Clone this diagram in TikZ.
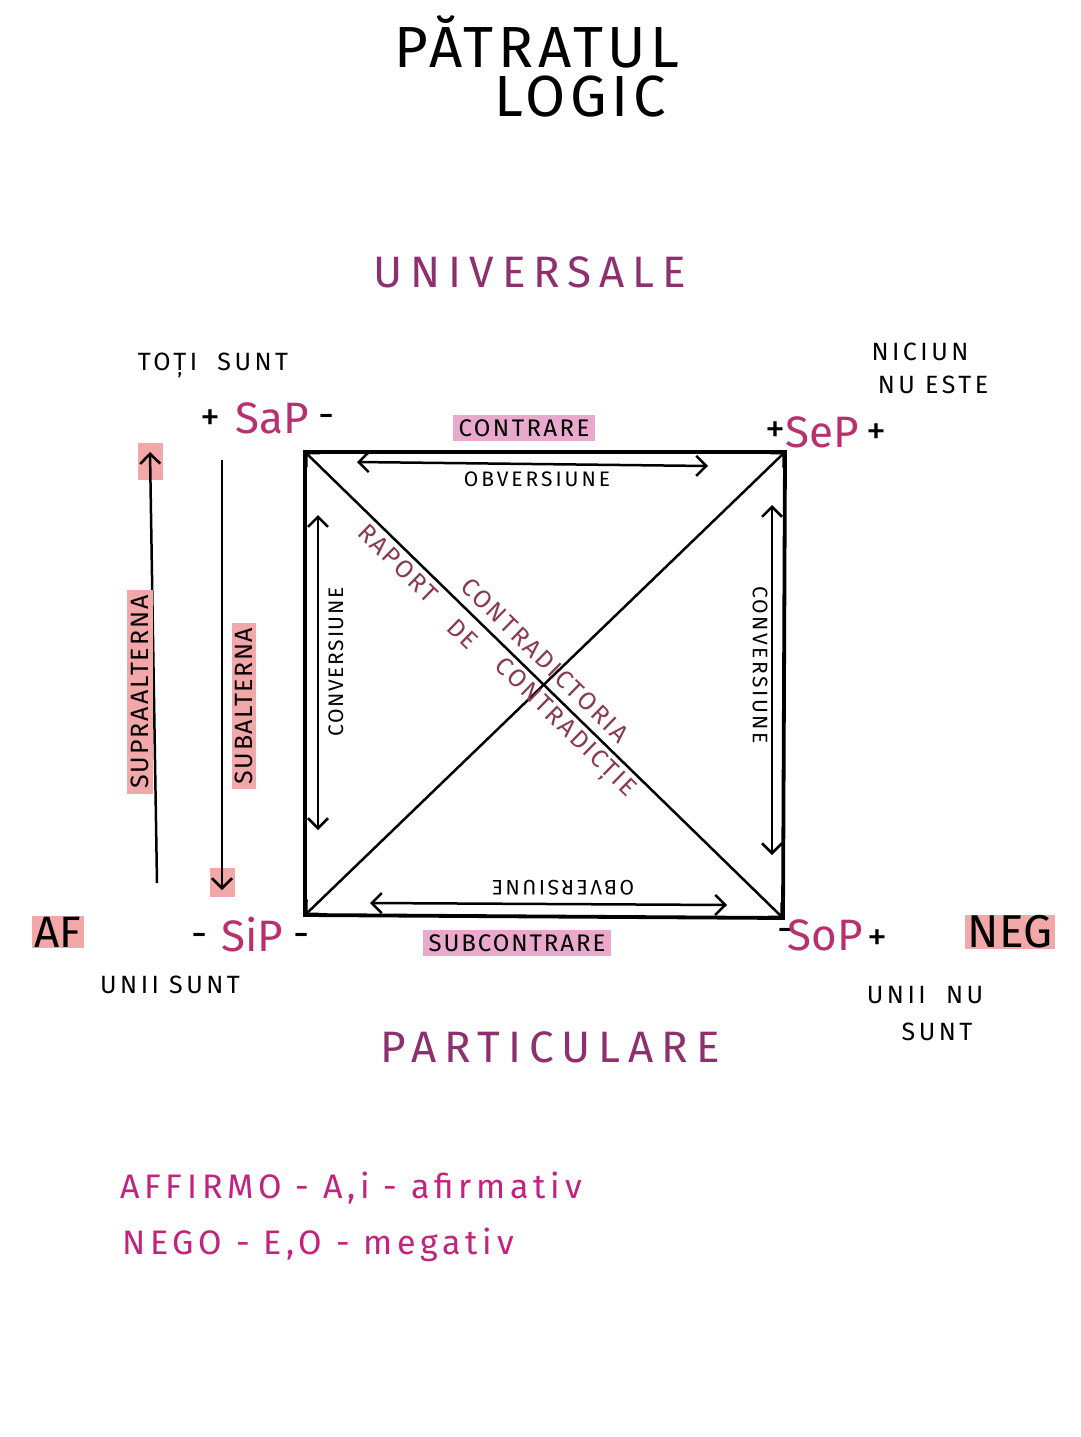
\documentclass[tikz,border=0pt]{standalone}
\usepackage{fontspec}
\setmainfont{Fira Sans}
\usetikzlibrary{arrows.meta}
\definecolor{inkpurple}{HTML}{8E2F6E}
\definecolor{inkmag}{HTML}{B8306E}
\definecolor{inkbright}{HTML}{C2237F}
\definecolor{inkmaroon}{HTML}{8A3A55}
\definecolor{hlpink}{HTML}{F2A7A9}
\definecolor{hllilac}{HTML}{E9A9CC}
\newcommand{\fsz}[1]{\fontsize{#1}{#1}\selectfont}
\begin{document}
\begin{tikzpicture}[x=1pt,y=-1pt,
  >={Straight Barb[length=10pt,width=20pt]},
  txt/.style={inner sep=1pt,text=black},
  small/.style={txt,font=\fsz{25}\addfontfeature{LetterSpace=14}},
  sym/.style={txt,font=\fsz{40}},
  prop/.style={inner sep=1pt,text=inkmag,font=\fsz{44}},
  head/.style={inner sep=1pt,text=inkpurple,font=\fsz{44}\addfontfeature{LetterSpace=18}},
  rel/.style={txt,font=\fsz{21}\addfontfeature{LetterSpace=8}},
  diag/.style={inner sep=1pt,text=inkmaroon,font=\fsz{25}\addfontfeature{LetterSpace=9},rotate=-44.3},
  hl/.style={fill=#1,inner xsep=6pt,inner ysep=4pt},
  edge/.style={line width=3.8pt},
  conn/.style={line width=2.5pt}]
\useasboundingbox[fill=white] (0,0) rectangle (1080,1437);

% title
\node[txt,font=\fsz{58}\addfontfeature{LetterSpace=8}] (t1) at (537,42) {PĂTRATUL};
\node[txt,font=\fsz{58}\addfontfeature{LetterSpace=8}] (t2) at (580,97) {LOGIC};

\node[head] (univ) at (530,272) {UNIVERSALE};
\node[head] (part) at (550,1047) {PARTICULARE};

% corners
\coordinate (A) at (305,452);
\coordinate (E) at (785,452);
\coordinate (I) at (305,915);
\coordinate (O) at (783,918);

\draw[edge] (A) -- (E) -- (O) -- (I) -- cycle;
\draw[conn,<->] (A) -- (O);
\draw[conn,<->] (I) -- (E);

% inner arrows
\coordinate (ob1) at (357,462); \coordinate (ob2) at (708,466);
\draw[conn,<->] (ob1) -- (ob2);
\node[rel,font=\fsz{21}\addfontfeature{LetterSpace=14}] (obv) at (537,479) {OBVERSIUNE};
\coordinate (ob3) at (370,903); \coordinate (ob4) at (727,905);
\draw[conn,<->] (ob3) -- (ob4);
\node[rel,rotate=180,font=\fsz{21}\addfontfeature{LetterSpace=12}] (obv2) at (563,888) {OBVERSIUNE};
\coordinate (cv1) at (318,515); \coordinate (cv2) at (318,830);
\draw[conn,<->] (cv1) -- (cv2);
\node[rel] (conv1) at (336,662) [rotate=90] {CONVERSIUNE};
\coordinate (cv3) at (772,505); \coordinate (cv4) at (772,855);
\draw[conn,<->] (cv3) -- (cv4);
\node[rel,rotate=-90,font=\fsz{21}\addfontfeature{LetterSpace=12}] (conv2) at (760,665) {CONVERSIUNE};

% contrare / subcontrare
\node[rel,hl=hllilac,font=\fsz{24}\addfontfeature{LetterSpace=10}] (contr) at (524,428) {CONTRARE};
\node[rel,hl=hllilac,font=\fsz{24}\addfontfeature{LetterSpace=8}] (subc) at (517,943) {SUBCONTRARE};

% diagonal texts
\node[diag] (rap) at (398,563) {RAPORT};
\node[diag] (de) at (463,634) {DE};
\node[diag] (cdia) at (545,660) {CONTRADICTORIA};
\node[diag] (cdie) at (564,729) {CONTRADICȚIE};

% side arrows
\fill[hlpink] (138,443) rectangle (163,480);
\fill[hlpink] (210,868) rectangle (235,897);
\coordinate (s1) at (157,883); \coordinate (s2) at (150,452);
\draw[conn,->] (s1) -- (s2);
\coordinate (s3) at (222,460); \coordinate (s4) at (222,890);
\draw[conn,->] (s3) -- (s4);
\node[rel,rotate=90,hl=hlpink,inner xsep=5pt,inner ysep=4pt,font=\fsz{25}\addfontfeature{LetterSpace=8}] (supra) at (140,692) {SUPRAALTERNA};
\node[rel,rotate=90,hl=hlpink,inner xsep=5pt,inner ysep=3pt,font=\fsz{25}\addfontfeature{LetterSpace=6}] (suba) at (244,706) {SUBALTERNA};

% SaP
\node[small] (toti) at (213,365) {TOȚI\ \ SUNT};
\node[sym] (sa1) at (210,420) {+};
\node[prop] (sap) at (272,418) {SaP};
\node[sym] (sa2) at (327,421) {-};
% SeP
\node[small] (nic1) at (920,352) {NICIUN};
\node[small] (nic2) at (933,385) {NU ESTE};
\node[sym] (se1) at (775,432) {+};
\node[prop] (sep) at (822,432) {SeP};
\node[sym] (se2) at (876,434) {+};
% SiP
\node[sym] (si1) at (200,940) {-};
\node[prop] (sip) at (252,935) {SiP};
\node[sym] (si2) at (302,940) {-};
\node[small] (unii) at (170,985) {UNII SUNT};
% SoP
\node[sym] (so1) at (786,935) {-};
\node[prop] (sop) at (825,935) {SoP};
\node[sym] (so2) at (877,940) {+};
\node[small] (un1) at (925,995) {UNII\ \ NU};
\node[small] (un2) at (937,1032) {SUNT};

% AF / NEG
\node[txt,hl=hlpink,inner xsep=3pt,inner ysep=1pt,font=\fsz{44}] (af) at (58,932) {AF};
\node[txt,hl=hlpink,inner xsep=3pt,inner ysep=1pt,font=\fsz{46}] (neg) at (1010,932) {NEG};

% legend
\node[inner sep=0pt,text=inkbright,anchor=west,font=\fsz{34}\addfontfeature{LetterSpace=14}] (l1) at (120,1188) {AFFIRMO - A,i - afirmativ};
\node[inner sep=0pt,text=inkbright,anchor=west,font=\fsz{34}\addfontfeature{LetterSpace=14}] (l2) at (122,1245) {NEGO - E,O - megativ};
\end{tikzpicture}
\end{document}
